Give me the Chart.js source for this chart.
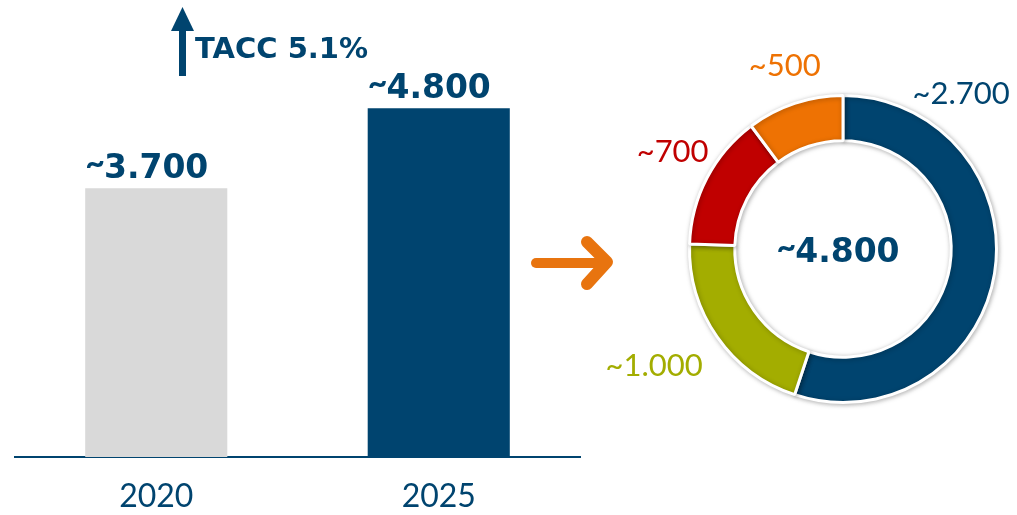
<!DOCTYPE html>
<html><head><meta charset="utf-8">
<script src="https://cdn.jsdelivr.net/npm/chart.js@4.4.1/dist/chart.umd.min.js"></script>
<style>html,body{margin:0;padding:0;background:#fff;overflow:hidden}
.box{position:absolute;left:0;top:0;width:1017px;height:515px}</style>
</head><body>
<div class="box"><canvas id="bar"></canvas></div>
<div class="box"><canvas id="donut"></canvas></div>
<script>
const years = ['2020', '2025'];
const totals = [3700, 4800];
const totalLabels = ['~3.700', '~4.800'];
const barColors = ['#D9D9D9', '#00446F'];
const growthLabel = 'TACC 5.1%';
const segmentNames = ['Segment 1', 'Segment 2', 'Segment 3', 'Segment 4'];
const segmentValues = [2700, 1000, 700, 500];
const segmentLabels = ['~2.700', '~1.000', '~700', '~500'];
const segmentColors = ['#00446F', '#A3AD00', '#C00000', '#EE7203'];
const donutCenterLabel = '~4.800';

const NAVY = '#00446F';
const TILDE_FONT = 'bold 34px Lato';
const BOLD = 'bold 33px "DejaVu Sans"';
const REG = '31px Lato';

// draws "~1.234" with a slim tilde and wide bold digits; align: 'left' or 'center'
function boldValue(ctx, text, x, y, align) {
  const t = text.charAt(0) === '~' ? '~' : '';
  const rest = text.slice(t.length);
  ctx.font = TILDE_FONT;
  const tw = t ? ctx.measureText(t).width - 1 : 0;
  ctx.font = BOLD;
  const rw = ctx.measureText(rest).width;
  let x0 = align === 'center' ? x - (tw + rw) / 2 : x;
  ctx.textAlign = 'left';
  if (t) { ctx.font = TILDE_FONT; ctx.fillText(t, x0, y - 3); }
  ctx.font = BOLD;
  ctx.fillText(rest, x0 + tw, y);
}

const barLabels = {
  id: 'barLabels',
  afterDatasetsDraw(chart) {
    const ctx = chart.ctx;
    const meta = chart.getDatasetMeta(0);
    ctx.save();
    ctx.fillStyle = NAVY;
    ctx.textBaseline = 'alphabetic';
    meta.data.forEach((bar, i) => {
      boldValue(ctx, totalLabels[i], bar.x - bar.width / 2, bar.y - 10, 'left');
    });
    // growth arrow + label
    ctx.fillStyle = NAVY;
    ctx.fillRect(179, 28, 7, 48);
    ctx.beginPath();
    ctx.moveTo(182.5, 7);
    ctx.lineTo(194, 31);
    ctx.lineTo(171, 31);
    ctx.closePath();
    ctx.fill();
    ctx.font = 'bold 29px "DejaVu Sans"';
    ctx.textAlign = 'left';
    ctx.fillText(growthLabel, 195, 58);
    // orange transition arrow
    ctx.strokeStyle = '#E8740F';
    ctx.lineCap = 'round';
    ctx.lineJoin = 'round';
    ctx.lineWidth = 10;
    ctx.beginPath();
    ctx.moveTo(536, 263);
    ctx.lineTo(602, 263);
    ctx.stroke();
    ctx.lineWidth = 12;
    ctx.beginPath();
    ctx.moveTo(587, 242);
    ctx.lineTo(607, 262);
    ctx.lineTo(587, 284);
    ctx.stroke();
    ctx.restore();
  }
};

new Chart(document.getElementById('bar'), {
  type: 'bar',
  data: {
    labels: years,
    datasets: [{ data: totals, backgroundColor: barColors, categoryPercentage: 1, barPercentage: 0.503 }]
  },
  options: {
    responsive: true, maintainAspectRatio: false, animation: false, events: [],
    layout: { padding: { left: 15, right: 437, top: 21, bottom: 0 } },
    plugins: { legend: { display: false }, tooltip: { enabled: false } },
    scales: {
      y: { display: false, min: 0, max: 6000 },
      x: {
        afterFit(s) { s.height = 58; },
        grid: { display: false, drawTicks: false },
        border: { display: true, color: NAVY, width: 2 },
        ticks: { color: NAVY, font: { family: 'Lato', size: 32 }, padding: 20 }
      }
    }
  },
  plugins: [barLabels]
});

const donutDecor = {
  id: 'donutDecor',
  beforeDatasetsDraw(chart) {
    const ctx = chart.ctx;
    ctx.save();
    ctx.shadowColor = 'rgba(0,0,0,0.28)';
    ctx.shadowBlur = 5;
    ctx.shadowOffsetX = 1;
    ctx.shadowOffsetY = 1;
  },
  afterDatasetsDraw(chart) {
    const ctx = chart.ctx;
    ctx.restore();
    const meta = chart.getDatasetMeta(0);
    const offs = chart.options.plugins.donutDecor.offsets;
    ctx.save();
    ctx.textAlign = 'center';
    ctx.textBaseline = 'middle';
    ctx.font = REG;
    meta.data.forEach((arc, i) => {
      const R = arc.outerRadius;
      ctx.fillStyle = segmentColors[i];
      ctx.fillText(segmentLabels[i], arc.x + offs[i][0] * R, arc.y + offs[i][1] * R);
    });
    const a0 = meta.data[0];
    ctx.fillStyle = NAVY;
    ctx.textBaseline = 'alphabetic';
    boldValue(ctx, donutCenterLabel, a0.x - 5, a0.y + 13, 'center');
    ctx.restore();
  }
};

new Chart(document.getElementById('donut'), {
  type: 'doughnut',
  data: {
    labels: segmentNames,
    datasets: [{ data: segmentValues, backgroundColor: segmentColors, borderColor: '#fff', borderWidth: 3 }]
  },
  options: {
    responsive: true, maintainAspectRatio: false, animation: false, events: [],
    cutout: '70.5%',
    layout: { padding: { left: 688, right: 19, top: 94, bottom: 111 } },
    plugins: {
      legend: { display: false }, tooltip: { enabled: false },
      donutDecor: { offsets: [[0.77, -1.01], [-1.23, 0.76], [-1.11, -0.63], [-0.38, -1.19]] }
    }
  },
  plugins: [donutDecor]
});
</script>
</body></html>
